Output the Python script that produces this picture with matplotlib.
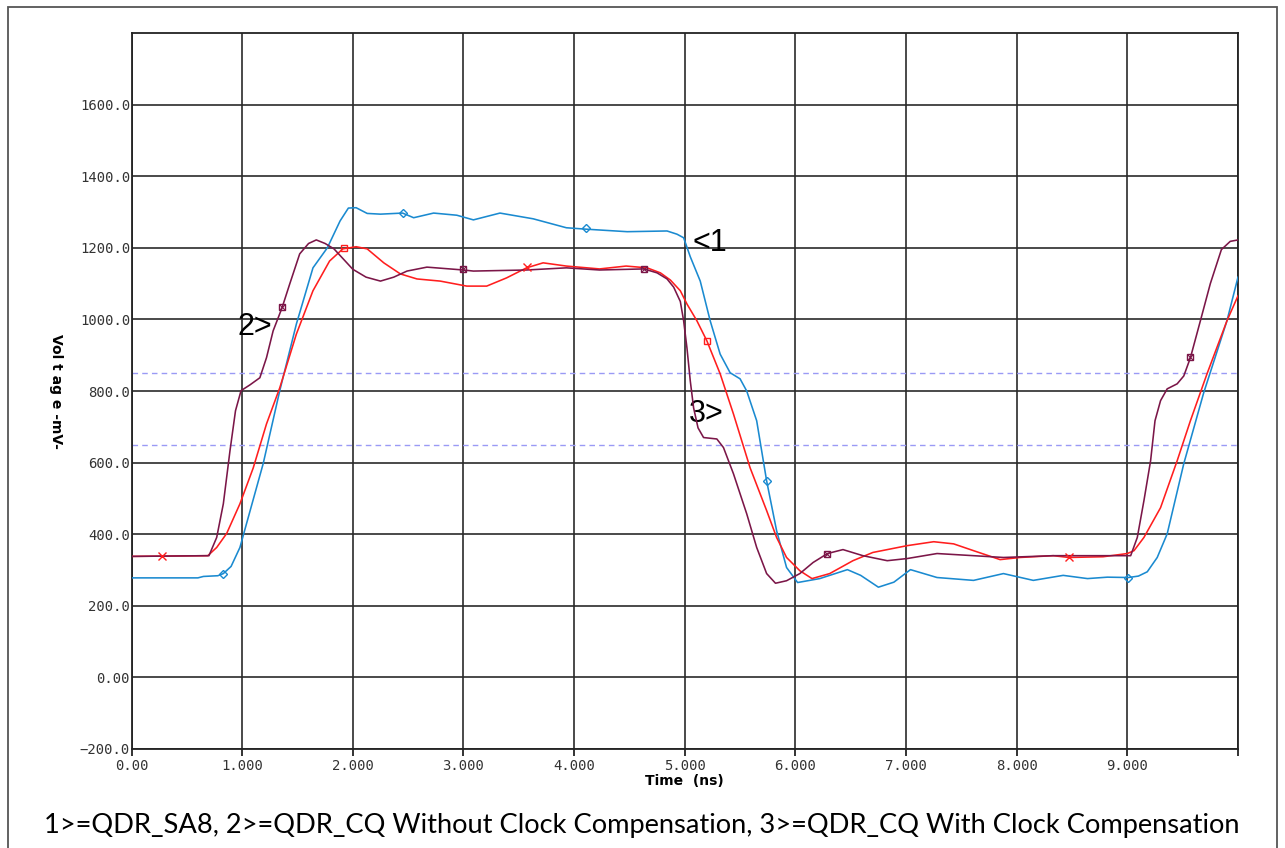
import numpy as np
import matplotlib
matplotlib.use("Agg")
import matplotlib.pyplot as plt
from matplotlib.patches import Rectangle

# ---------------- data ----------------
t_sa8 = [0, 0.6, 0.65, 0.78, 0.83, 0.9, 0.98, 1.04, 1.19, 1.34, 1.49, 1.64, 1.77, 1.885, 1.96,
         2.03, 2.13, 2.25, 2.45, 2.55, 2.73, 2.94, 3.09, 3.33, 3.63, 3.93, 4.11, 4.48, 4.84, 4.93,
         4.99, 5.05, 5.14, 5.23, 5.32, 5.41, 5.5, 5.56, 5.65, 5.74, 5.83, 5.92, 6.02, 6.22, 6.47,
         6.59, 6.75, 6.89, 7.04, 7.28, 7.61, 7.88, 8.15, 8.42, 8.64, 8.82, 9.01, 9.1, 9.18, 9.27,
         9.36, 9.51, 9.69, 9.9, 10.0]
v_sa8 = [278, 278, 282, 284, 290, 310, 363, 430, 597, 801, 987, 1144, 1200, 1275, 1311,
         1312, 1296, 1294, 1297, 1284, 1297, 1291, 1278, 1297, 1281, 1256, 1252, 1245, 1247, 1238,
         1228, 1175, 1107, 996, 903, 851, 834, 800, 717, 549, 410, 307, 265, 276, 301,
         285, 252, 266, 301, 279, 271, 290, 271, 285, 276, 280, 279, 283, 295, 335,
         401, 597, 795, 996, 1118]

t_cq_wo = [0, 0.69, 0.77, 0.86, 0.98, 1.1, 1.22, 1.34, 1.49, 1.64, 1.79, 1.91, 2.03, 2.13, 2.28,
           2.43, 2.58, 2.79, 3.03, 3.21, 3.39, 3.57, 3.72, 3.93, 4.23, 4.47, 4.66, 4.78, 4.87, 4.96,
           5.02, 5.11, 5.2, 5.32, 5.44, 5.59, 5.74, 5.83, 5.92, 6.04, 6.15, 6.31, 6.52, 6.7, 7.01,
           7.25, 7.43, 7.61, 7.85, 8.03, 8.33, 8.47, 8.78, 9.0, 9.06, 9.15, 9.3, 9.45, 9.57, 9.72,
           9.9, 10.0]
v_cq_wo = [338, 340, 363, 402, 485, 585, 708, 809, 959, 1080, 1163, 1197, 1203, 1197, 1158,
           1127, 1113, 1107, 1093, 1093, 1116, 1144, 1158, 1149, 1141, 1149, 1144, 1130, 1110, 1080,
           1043, 996, 940, 848, 736, 586, 466, 391, 335, 298, 276, 290, 326, 349, 368,
           379, 373, 354, 329, 335, 340, 335, 337, 346, 354, 391, 474, 605, 717, 848,
           996, 1066]

t_cq_w = [0, 0.7, 0.77, 0.83, 0.89, 0.94, 0.99, 1.07, 1.16, 1.22, 1.28, 1.36, 1.43, 1.52, 1.6,
          1.67, 1.75, 1.83, 2.0, 2.12, 2.25, 2.37, 2.49, 2.67, 3.0, 3.09, 3.57, 3.93, 4.23, 4.63,
          4.75, 4.84, 4.9, 4.96, 4.99, 5.02, 5.05, 5.08, 5.12, 5.17, 5.29, 5.35, 5.44, 5.56, 5.65,
          5.74, 5.82, 5.92, 6.04, 6.16, 6.29, 6.43, 6.61, 6.83, 7.01, 7.28, 7.61, 7.88, 8.33, 8.64,
          9.03, 9.09, 9.15, 9.21, 9.25, 9.3, 9.36, 9.45, 9.51, 9.57, 9.66, 9.75, 9.85, 9.93, 10.0]
v_cq_w = [338, 340, 391, 485, 633, 745, 801, 817, 837, 893, 968, 1032, 1099, 1183, 1212,
          1222, 1212, 1197, 1140, 1118, 1107, 1118, 1135, 1146, 1138, 1135, 1138, 1144, 1138, 1141,
          1130, 1113, 1090, 1050, 996, 920, 828, 753, 697, 670, 666, 642, 569, 457, 363,
          290, 263, 270, 290, 321, 346, 357, 340, 326, 332, 346, 340, 335, 340, 340,
          340, 391, 494, 605, 717, 773, 806, 820, 842, 893, 996, 1100, 1195, 1218, 1222]

# marker positions on each trace
mk_sa8_t = [0.83, 2.45, 4.11, 5.74, 9.01]
mk_sa8_v = [290, 1297, 1254, 549, 279]
mk_wo_t = [0.28, 1.92, 3.57, 5.2, 8.47]
mk_wo_v = [338, 1199, 1146, 940, 335]
mk_w_t = [1.36, 3.0, 4.63, 6.29, 9.57]
mk_w_v = [1035, 1141, 1141, 346, 895]

thresholds = [850, 650]

x_ticks = [0, 1, 2, 3, 4, 5, 6, 7, 8, 9, 10]
x_ticklabels = ["0.00", "1.000", "2.000", "3.000", "4.000", "5.000", "6.000",
                "7.000", "8.000", "9.000", ""]
y_ticks = [-200, 0, 200, 400, 600, 800, 1000, 1200, 1400, 1600]
y_ticklabels = ["\u2212200.0", "0.00", "200.0", "400.0", "600.0", "800.0",
                "1000.0", "1200.0", "1400.0", "1600.0"]

caption = ("1>=QDR_SA8, 2>=QDR_CQ Without Clock Compensation, "
           "3>=QDR_CQ With Clock Compensation")

# ---------------- styling ----------------
c_blue = "#1a8ad0"
c_red = "#ff1e1e"
c_purple = "#7b1648"
c_dash = "#9a9af5"
c_grid = "#2a2a2a"

fig = plt.figure(figsize=(12.85, 8.48), dpi=100)
ax = fig.add_axes([131.5 / 1285, 1 - 749 / 848, (1238 - 131.5) / 1285, (749 - 33) / 848])

# outer frame
fig.patches.append(Rectangle((8 / 1285, -0.05), (1277 - 8) / 1285, 1 - 7 / 848 + 0.05,
                             transform=fig.transFigure, fill=False,
                             edgecolor="#555555", linewidth=1.3))

ax.set_xlim(0, 10)
ax.set_ylim(-200, 1800)
ax.set_xticks(x_ticks)
ax.set_xticklabels(x_ticklabels)
ax.set_yticks(y_ticks)
ax.set_yticklabels(y_ticklabels)

ax.grid(True, color=c_grid, linewidth=1.2)
ax.set_axisbelow(True)
for s in ax.spines.values():
    s.set_color("#222222")
    s.set_linewidth(1.3)

ax.tick_params(axis="x", length=5, width=1.3, color="#222222", pad=2)
ax.tick_params(axis="y", length=0, pad=1)
for lab in ax.get_xticklabels() + ax.get_yticklabels():
    lab.set_fontfamily("DejaVu Sans Mono")
    lab.set_fontsize(10)
    lab.set_color("#333333")

for th in thresholds:
    ax.axhline(th, color=c_dash, linewidth=1.0, linestyle=(0, (4, 3)), zorder=1.5)

ax.plot(t_sa8, v_sa8, color=c_blue, linewidth=1.15, zorder=3)
ax.plot(t_cq_wo, v_cq_wo, color=c_red, linewidth=1.15, zorder=4)
ax.plot(t_cq_w, v_cq_w, color=c_purple, linewidth=1.15, zorder=5)

# markers
ax.plot(mk_sa8_t, mk_sa8_v, linestyle="none", marker="D", markersize=4,
        markerfacecolor="none", markeredgecolor=c_blue, markeredgewidth=1, zorder=6)
ax.plot(mk_wo_t[0::2], mk_wo_v[0::2], linestyle="none", marker="x", markersize=6,
        markeredgecolor=c_red, markeredgewidth=1, zorder=6)
ax.plot(mk_wo_t[1::2], mk_wo_v[1::2], linestyle="none", marker="s", markersize=5,
        markerfacecolor="none", markeredgecolor=c_red, markeredgewidth=1, zorder=6)
ax.plot(mk_w_t, mk_w_v, linestyle="none", marker="s", markersize=5,
        markerfacecolor="none", markeredgecolor=c_purple, markeredgewidth=1, zorder=6)
ax.plot(mk_w_t, mk_w_v, linestyle="none", marker="x", markersize=5,
        markeredgecolor=c_purple, markeredgewidth=0.8, zorder=6)

# curve labels
lblfont = dict(family="Liberation Sans", fontsize=22, color="black")
ax.text(5.07, 1213, "<1", ha="left", va="center", **lblfont)
ax.text(0.96, 979, "2>", ha="left", va="center", **lblfont)
ax.text(5.04, 736, "3>", ha="left", va="center", **lblfont)

ax.set_xlabel("Time  (ns)", fontsize=10, fontweight="bold", labelpad=1,
              family="DejaVu Sans")
ax.set_ylabel("Vol t ag e -mV-", fontsize=10, fontweight="bold", rotation=270,
              labelpad=14, family="DejaVu Sans", va="bottom")
ax.yaxis.set_label_coords(-0.075, 0.5)

fig.text(642 / 1285, 1 - 826 / 848, caption, ha="center", va="center",
         family="Lato", fontsize=19.6, color="black")

fig.savefig("out.png", dpi=100)
